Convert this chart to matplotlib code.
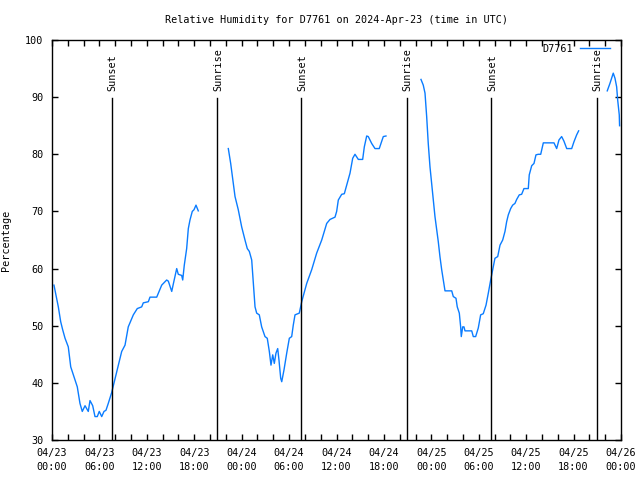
import numpy as np
import matplotlib
matplotlib.use("Agg")
import matplotlib.pyplot as plt
from matplotlib.ticker import MultipleLocator

# hours since 2024-04-23 00:00 UTC, NaN marks a gap in the record
hours = [
    0.25, 0.8, 1.1, 1.35, 1.65, 2.06, 2.37, 2.7, 3.2, 3.54, 3.83, 4.18, 4.59, 4.81,
    5.15, 5.44, 5.73, 5.98, 6.29, 6.58, 6.83, 7.12, 7.55, 7.85, 8.39, 8.82, 9.24,
    9.65, 10.29, 10.79, 11.35, 11.55, 12.19, 12.4, 13.25, 13.88, 14.51, 14.72,
    15.15, 15.35, 15.78, 15.98, 16.41, 16.54, 16.74, 17.04, 17.25, 17.46, 17.75,
    17.97, 18.22, 18.51,
    np.nan,
    22.31, 22.61, 22.94, 23.16, 23.57, 24.0, 24.42, 24.71, 24.97, 25.27, 25.47,
    25.69, 25.9, 26.23, 26.53, 26.95, 27.24, 27.5, 27.71, 27.93, 28.13, 28.34,
    28.56, 28.72, 28.94, 29.07, 29.36, 29.7, 30.03, 30.33, 30.53, 30.75, 31.29,
    31.6, 32.23, 32.86, 33.49, 34.13, 34.76, 35.18, 35.81, 36.02, 36.23, 36.66,
    36.99, 37.29, 37.71, 38.05, 38.34, 38.76, 39.31, 39.52, 39.82, 40.02, 40.45,
    40.87, 41.41, 41.92, 42.26,
    np.nan,
    46.69, 46.98, 47.2, 47.41, 47.61, 47.83, 48.04, 48.25, 48.46, 48.68, 48.88,
    49.09, 49.31, 49.51, 49.73, 50.58, 50.78, 51.12, 51.28, 51.54, 51.71, 51.79,
    51.97, 52.13, 52.26, 53.11, 53.31, 53.61, 53.94, 54.24, 54.57, 54.92, 55.21,
    55.51, 55.84, 56.05, 56.4, 56.69, 57.03, 57.32, 57.53, 57.74, 58.04, 58.29,
    58.58, 58.8, 59.13, 59.43, 59.72, 60.27, 60.39, 60.7, 60.99, 61.24, 61.53,
    61.84, 62.17, 62.6, 63.52, 63.86, 64.15, 64.49, 64.78, 65.13, 65.76, 66.05,
    66.39, 66.64,
    np.nan,
    70.26, 70.6, 70.9, 71.02, 71.24, 71.45, 71.58, 71.78, 71.82,
]
rh = [
    57.1, 53.3, 50.7, 49.3, 47.8, 46.3, 42.8, 41.4, 39.3, 36.4, 35.0, 36.0, 35.0, 36.9,
    36.0, 34.1, 34.1, 35.0, 34.1, 35.0, 35.2, 36.4, 38.3, 40.0, 43.1, 45.5, 46.6,
    49.8, 51.9, 53.0, 53.3, 54.0, 54.2, 55.0, 55.0, 57.1, 58.0, 57.8,
    56.0, 57.3, 60.0, 59.0, 58.8, 58.0, 60.6, 63.5, 67.0, 68.5, 70.0,
    70.3, 71.1, 70.1,
    np.nan,
    81.0, 78.4, 74.9, 72.6, 70.3, 67.3, 65.0, 63.5, 63.0, 61.5, 57.7,
    53.3, 52.2, 51.9, 49.8, 48.1, 47.8, 45.5, 43.1, 44.9, 43.4, 45.2,
    46.0, 44.0, 40.8, 40.2, 42.3, 45.2, 47.8, 48.1, 50.1, 51.9, 52.2,
    54.2, 57.4, 59.8, 62.7, 65.0, 67.9, 68.6, 69.0, 70.0, 72.0, 73.0,
    73.1, 74.6, 76.7, 79.3, 80.0, 79.1, 79.1, 81.3, 83.2, 83.1, 81.9,
    81.0, 81.0, 83.1, 83.2,
    np.nan,
    93.1, 92.1, 90.7, 86.6, 81.9, 77.8, 74.9, 72.0, 69.1, 66.8, 64.7,
    62.1, 59.8, 58.0, 56.1, 56.1, 55.1, 54.8, 53.3, 52.2, 49.8, 48.1,
    49.8, 49.8, 49.1, 49.1, 48.1, 48.1, 49.6, 51.9, 52.1, 53.6, 55.7,
    58.0, 60.3, 61.8, 62.1, 64.1, 65.0, 66.5, 68.2, 69.4, 70.5, 71.1,
    71.4, 72.1, 72.9, 73.0, 74.0, 74.0, 76.4, 78.0, 78.4, 79.9, 80.0,
    80.0, 82.0, 82.0, 82.0, 81.0, 82.5, 83.1, 82.3, 81.0, 81.0, 82.2,
    83.4, 84.1,
    np.nan,
    91.1, 92.4, 93.7, 94.2, 93.3, 91.8, 89.5, 86.9, 85.0,
]

sun_hours = [7.59, 20.92, 31.55, 44.86, 55.61, 68.92]
sun_labels = ["Sunset", "Sunrise", "Sunset", "Sunrise", "Sunset", "Sunrise"]

tick_hours = list(range(0, 73, 6))
tick_labels = [
    "04/23\n00:00", "04/23\n06:00", "04/23\n12:00", "04/23\n18:00",
    "04/24\n00:00", "04/24\n06:00", "04/24\n12:00", "04/24\n18:00",
    "04/25\n00:00", "04/25\n06:00", "04/25\n12:00", "04/25\n18:00",
    "04/26\n00:00",
]

plt.rcParams['font.family'] = ['DejaVu Sans Mono']
fs = 7.3

fig = plt.figure(figsize=(6.4, 4.8), dpi=100)
ax = fig.add_axes([52 / 640, 40 / 480, 569 / 640, 400 / 480])

ax.plot(hours, rh, color='#0a7cff', lw=1.0, label='D7761')

# sunrise / sunset markers
for h, lab in zip(sun_hours, sun_labels):
    ax.plot([h, h], [30, 89.9], color='black', lw=1.0)
    ax.text(h + 0.1, 91.0, lab, rotation=90, ha='center', va='bottom', fontsize=fs)

ax.set_xlim(0, 72)
ax.set_ylim(30, 100)
ax.set_xticks(tick_hours)
ax.set_xticklabels(tick_labels, linespacing=1.45)
ax.xaxis.set_minor_locator(MultipleLocator(2))
ax.yaxis.set_major_locator(MultipleLocator(10))

ax.tick_params(which='both', direction='in', top=True, right=True,
               length=4, width=1, labelsize=fs, pad=6)
for s in ax.spines.values():
    s.set_linewidth(1.0)

ax.set_title('Relative Humidity for D7761 on 2024-Apr-23 (time in UTC)',
             fontsize=fs, pad=12)
ax.set_ylabel('Percentage', fontsize=fs)
ax.yaxis.set_label_coords(-0.072, 0.5)

ax.legend(loc='upper right', bbox_to_anchor=(0.9855, 0.9975), frameon=False,
          fontsize=fs, markerfirst=False, handlelength=2.9, handletextpad=0.7,
          borderaxespad=0.2, borderpad=0.1)

fig.savefig('out.png', dpi=100)
